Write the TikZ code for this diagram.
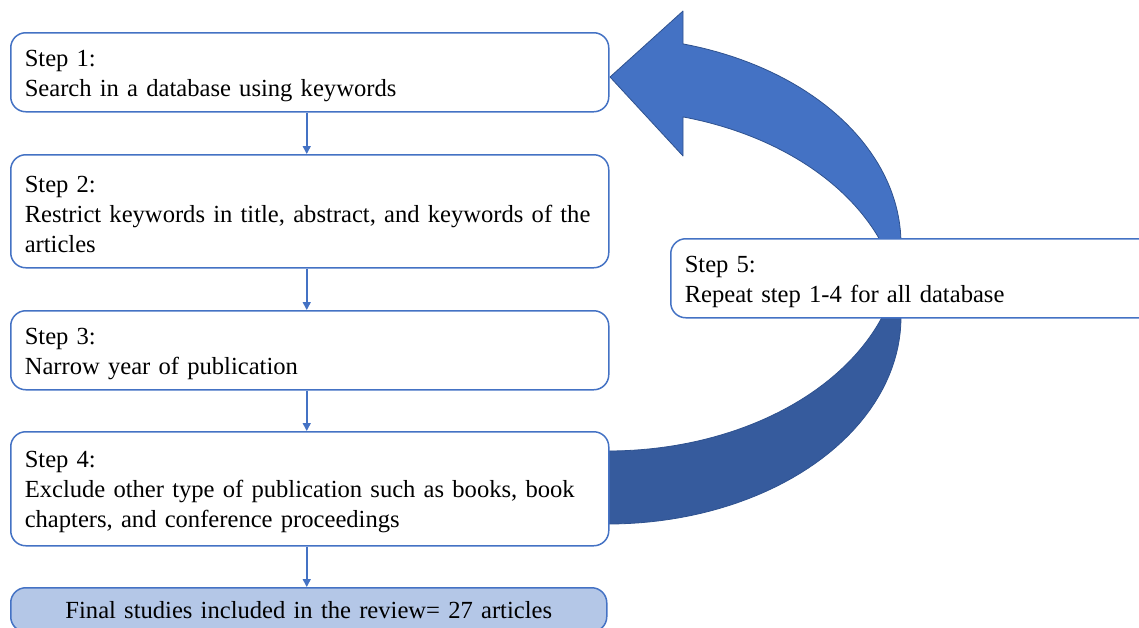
\documentclass[tikz,border=0pt]{standalone}
\usepackage{fontspec}
\setmainfont{Liberation Serif}
\usetikzlibrary{arrows.meta}
\definecolor{boxblue}{HTML}{4472C4}
\definecolor{arrowdark}{HTML}{365B9D}
\definecolor{arrowline}{HTML}{2F528F}
\definecolor{finalfill}{HTML}{B4C7E7}
\begin{document}
\begin{tikzpicture}[x=0.5pt,y=-0.5pt,
  basebox/.style={draw=boxblue, line width=0.75pt, fill=white, rounded corners=7.5pt,
    minimum width=299pt, minimum height=39.5pt, inner xsep=7pt, inner ysep=0pt,
    font=\fontsize{12.3}{15}\selectfont, anchor=north west},
  stepbox/.style={basebox, text width=285pt, align=left,
    execute at begin node={\rule{0pt}{11.6pt}}},
  finalbox/.style={basebox, fill=finalfill, align=center, minimum width=298pt, text width=284pt},
  flow/.style={draw=boxblue, line width=0.75pt, -{Triangle[length=4pt,width=4pt]}},
  bigarrow/.style={draw=arrowline, line width=0.4pt, line join=round}
]
\useasboundingbox (0,0) rectangle (1139,627);
\clip (0,0) rectangle (1139,627);
% big curved arrow: lower (darker) band
\filldraw[bigarrow, fill=arrowdark]
  plot[domain=10.16:90, samples=50] ({608+293*cos(\x)},{244+207*sin(\x)})
  -- plot[domain=90:-10.16, samples=50] ({608+293*cos(\x)},{317+207*sin(\x)}) -- cycle;
% upper band with head
\filldraw[bigarrow, fill=boxblue]
  (683,11) -- (610,77) -- (683,156) -- (683,117)
  -- plot[domain=-75.17:-10.16, samples=50] ({608+293*cos(\x)},{317+207*sin(\x)})
  -- plot[domain=10.16:-75.17, samples=50] ({608+293*cos(\x)},{244+207*sin(\x)})
  -- cycle;
% boxes
\node[stepbox] (s1) at (10,32) {Step 1:\\Search in a database using keywords};
\node[stepbox, minimum height=56.5pt] (s2) at (10,154) {Step 2:\\Restrict keywords in title, abstract, and keywords of the\\articles};
\node[stepbox] (s3) at (10,310) {Step 3:\\Narrow year of publication};
\node[stepbox, minimum height=57pt] (s4) at (10,431) {Step 4:\\Exclude other type of publication such as books, book\\chapters, and conference proceedings};
\node[finalbox, minimum height=22pt] (fin) at (10,587) {Final studies included in the review= 27 articles};
\node[stepbox, minimum width=260pt, text width=246pt] (s5) at (670,238) {Step 5:\\Repeat step 1-4 for all database};
% connectors
\draw[flow] ([xshift=-1.5pt]s1.south) -- ([xshift=-1.5pt]s2.north);
\draw[flow] ([xshift=-1.5pt]s2.south) -- ([xshift=-1.5pt]s3.north);
\draw[flow] ([xshift=-1.5pt]s3.south) -- ([xshift=-1.5pt]s4.north);
\draw[flow] ([xshift=-1.5pt]s4.south) -- ([xshift=-1.5pt]s4.south |- fin.north);
\end{tikzpicture}
\end{document}
